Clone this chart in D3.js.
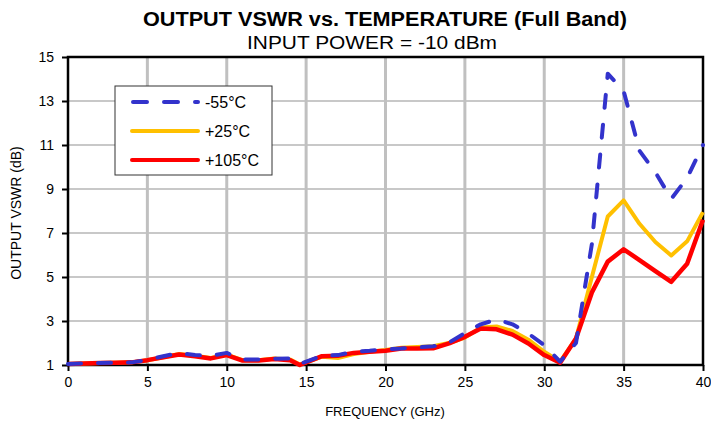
<!DOCTYPE html>
<html>
<head>
<meta charset="utf-8">
<script src="https://cdn.jsdelivr.net/npm/d3@7"></script>
<style>
  body { margin: 0; background: #fff; }
  text { font-family: "Liberation Sans", Arial, sans-serif; fill: #000; }
</style>
</head>
<body>
<svg id="chart"></svg>
<script>
var size = { width: 711, height: 423 };

// frequency points (GHz)
var freq = [0,1,2,3,4,5,6,7,8,9,10,11,12,13,14,14.6,16,17,18,19,20,21,22,23,24,25,26,27,28,29,30,31,32,33,34,35,36,37,38,39,40];

var vswrMinus55 = [1.05,1.07,1.09,1.1,1.12,1.23,1.4,1.55,1.45,1.42,1.55,1.25,1.25,1.28,1.3,1.05,1.42,1.45,1.6,1.65,1.72,1.75,1.8,1.85,2.02,2.45,2.85,3.07,2.85,2.43,1.9,1.15,2.0,6.5,14.24,13.46,10.74,9.76,8.55,9.5,11.0];
var vswrPlus25 = [1.05,1.07,1.09,1.1,1.12,1.22,1.35,1.5,1.42,1.32,1.47,1.22,1.22,1.3,1.25,1.02,1.38,1.32,1.5,1.6,1.68,1.78,1.82,1.85,2.0,2.25,2.7,2.75,2.55,2.15,1.6,1.15,2.2,5.0,7.75,8.48,7.42,6.59,5.98,6.62,7.95];
var vswrPlus105 = [1.05,1.07,1.09,1.1,1.12,1.22,1.35,1.48,1.4,1.3,1.45,1.2,1.2,1.27,1.22,1.0,1.4,1.42,1.55,1.6,1.65,1.75,1.75,1.76,1.98,2.28,2.66,2.62,2.38,1.98,1.45,1.1,2.2,4.3,5.7,6.26,5.77,5.27,4.78,5.6,7.6];

var seriesNames = ["-55°C", "+25°C", "+105°C"];
var seriesColors = ["#3333cc", "#ffc000", "#ff0000"];

var xTicks = [0,5,10,15,20,25,30,35,40];
var yTicks = [1,3,5,7,9,11,13,15];

var margin = { left: 68, right: 8, top: 57, bottom: 58 };

var svg = d3.select('#chart')
  .attr('width', size.width)
  .attr('height', size.height);

var x = d3.scaleLinear().domain([0, 40]).range([margin.left, size.width - margin.right]);
var y = d3.scaleLinear().domain([1, 15]).range([size.height - margin.bottom, margin.top]);

// gridlines
svg.append('g').selectAll('line')
  .data(yTicks.slice(1, -1))
  .enter().append('line')
    .attr('x1', x(0)).attr('x2', x(40))
    .attr('y1', function(d) { return y(d); })
    .attr('y2', function(d) { return y(d); })
    .attr('stroke', '#c8c8c8')
    .attr('stroke-width', 2);

svg.append('g').selectAll('line')
  .data(xTicks.slice(1, -1))
  .enter().append('line')
    .attr('y1', y(1)).attr('y2', y(15))
    .attr('x1', function(d) { return x(d); })
    .attr('x2', function(d) { return x(d); })
    .attr('stroke', '#c0c0c0')
    .attr('stroke-width', 3);

// axes
var xAxis = svg.append('g')
  .attr('transform', 'translate(0,' + y(1) + ')')
  .call(d3.axisBottom(x).tickValues(xTicks).tickSize(6).tickPadding(6));
var yAxis = svg.append('g')
  .attr('transform', 'translate(' + x(0) + ',0)')
  .call(d3.axisLeft(y).tickValues(yTicks).tickSize(6).tickPadding(8));

[xAxis, yAxis].forEach(function(a) {
  a.select('.domain').remove();
  a.selectAll('line').attr('stroke', '#000').attr('stroke-width', 2);
  a.selectAll('text').style('font-size', '14px').style('font-family', '"Liberation Sans", Arial, sans-serif');
});

// plot frame
svg.append('rect')
  .attr('x', x(0)).attr('y', y(15))
  .attr('width', x(40) - x(0)).attr('height', y(1) - y(15))
  .attr('fill', 'none').attr('stroke', '#000').attr('stroke-width', 2.5);

// lines, red first so the blue dashes sit on top
var line = d3.line()
  .x(function(d) { return x(d[0]); })
  .y(function(d) { return y(d[1]); });

var allSeries = [vswrMinus55, vswrPlus25, vswrPlus105];
[1, 2, 0].forEach(function(i) {
  var pts = freq.map(function(f, k) { return [f, allSeries[i][k]]; });
  var p = svg.append('path')
    .datum(pts)
    .attr('d', line)
    .attr('fill', 'none')
    .attr('stroke', seriesColors[i])
    .attr('stroke-width', i == 2 ? 4.5 : 4)
    .attr('stroke-linejoin', 'round');
  if (i == 0) {
    p.attr('stroke-dasharray', '13,17').attr('stroke-linecap', 'round');
  }
});

// legend
var legend = svg.append('g');
legend.append('rect')
  .attr('x', 115).attr('y', 86)
  .attr('width', 157).attr('height', 89)
  .attr('fill', '#fff').attr('stroke', '#333').attr('stroke-width', 1);

seriesNames.forEach(function(name, i) {
  var ly = 102 + i * 29;
  var l = legend.append('line')
    .attr('x1', 132).attr('x2', 198)
    .attr('y1', ly).attr('y2', ly)
    .attr('stroke', seriesColors[i])
    .attr('stroke-width', 4);
  if (i == 0) {
    l.attr('x1', 133).attr('stroke-dasharray', '14,17').attr('stroke-linecap', 'round');
  } else {
    l.attr('stroke-linecap', 'round');
  }
  legend.append('text')
    .attr('x', 205).attr('y', ly + 6)
    .style('font-size', '16px')
    .text(name);
});

// titles
svg.append('text')
  .attr('x', 385).attr('y', 26)
  .attr('text-anchor', 'middle')
  .attr('textLength', 484).attr('lengthAdjust', 'spacingAndGlyphs')
  .style('font-size', '20px').style('font-weight', 'bold')
  .text('OUTPUT VSWR vs. TEMPERATURE (Full Band)');
svg.append('text')
  .attr('x', 372).attr('y', 49)
  .attr('text-anchor', 'middle')
  .attr('textLength', 250).attr('lengthAdjust', 'spacingAndGlyphs')
  .style('font-size', '18px')
  .text('INPUT POWER = -10 dBm');

svg.append('text')
  .attr('x', 385).attr('y', 416)
  .attr('text-anchor', 'middle')
  .style('font-size', '13px')
  .text('FREQUENCY (GHz)');
svg.append('text')
  .attr('transform', 'translate(21,213) rotate(-90)')
  .attr('text-anchor', 'middle')
  .style('font-size', '14px')
  .text('OUTPUT VSWR (dB)');
</script>
</body>
</html>
